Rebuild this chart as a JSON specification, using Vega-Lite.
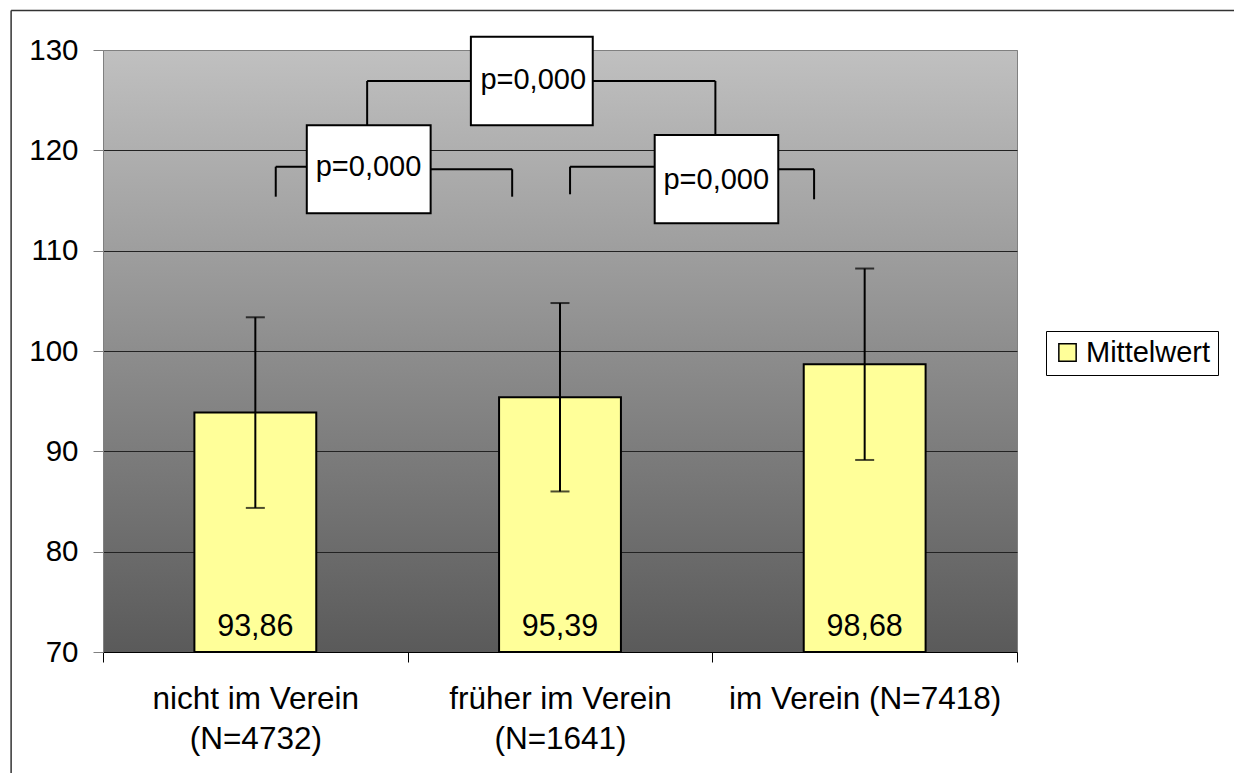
{
  "$schema": "https://vega.github.io/schema/vega-lite/v6.json",
  "width": 914,
  "height": 602,
  "autosize": "none",
  "padding": {"left": 103, "top": 50, "right": 217, "bottom": 121},
  "background": "white",
  "config": {
    "font": "Liberation Sans",
    "view": {
      "stroke": "#808080",
      "strokeWidth": 1,
      "fill": {"gradient": "linear", "x1": 0, "y1": 0, "x2": 0, "y2": 1,
        "stops": [{"offset": 0, "color": "#c0c0c0"}, {"offset": 1, "color": "#5a5a5a"}]}
    }
  },
  "datasets": {
    "bars": [
      {"Gruppe": "nicht im Verein|(N=4732)", "Mittelwert": 93.86, "Label": "93,86", "unten": 84.36, "oben": 103.36},
      {"Gruppe": "früher im Verein|(N=1641)", "Mittelwert": 95.39, "Label": "95,39", "unten": 86.0, "oben": 104.78},
      {"Gruppe": "im Verein (N=7418)", "Mittelwert": 98.68, "Label": "98,68", "unten": 89.14, "oben": 108.22}
    ],
    "linien": [
      {"x": 0.867, "x2": 2.010, "y": 126.91, "y2": 126.91},
      {"x": 0.867, "x2": 0.867, "y": 126.91, "y2": 122.5},
      {"x": 2.010, "x2": 2.010, "y": 126.91, "y2": 121.53},
      {"x": 0.567, "x2": 0.87, "y": 118.37, "y2": 118.37},
      {"x": 0.567, "x2": 0.567, "y": 118.37, "y2": 115.38},
      {"x": 0.87, "x2": 1.343, "y": 118.11, "y2": 118.11},
      {"x": 1.343, "x2": 1.343, "y": 118.11, "y2": 115.38},
      {"x": 1.533, "x2": 2.01, "y": 118.37, "y2": 118.37},
      {"x": 1.533, "x2": 1.533, "y": 118.37, "y2": 115.62},
      {"x": 2.01, "x2": 2.334, "y": 118.11, "y2": 118.11},
      {"x": 2.334, "x2": 2.334, "y": 118.11, "y2": 115.12}
    ],
    "boxen": [
      {"x": 1.2075, "x2": 1.6075, "y": 131.33, "y2": 122.5, "tx": 1.412, "ty": 127.0, "p": "p=0,000"},
      {"x": 0.6689, "x2": 1.0754, "y": 122.5, "y2": 113.72, "tx": 0.8715, "ty": 118.37, "p": "p=0,000"},
      {"x": 1.8108, "x2": 2.2164, "y": 121.53, "y2": 112.73, "tx": 2.013, "ty": 117.04, "p": "p=0,000"}
    ],
    "rahmen": [
      {"x": -0.3016, "x2": -0.3016, "y": 133.93, "y2": 40},
      {"x": -0.3016, "x2": 6, "y": 133.93, "y2": 133.93}
    ]
  },
  "layer": [
    {
      "data": {"name": "bars"},
      "encoding": {
        "x": {
          "field": "Gruppe", "type": "nominal", "sort": null,
          "scale": {"paddingInner": 0, "paddingOuter": 0},
          "axis": {
            "title": null, "labelAngle": 0, "tickBand": "extent", "tickSize": 10,
            "tickColor": "#000", "domainColor": "#000", "labelFontSize": 31.5,
            "labelColor": "black", "labelExpr": "split(datum.label, '|')",
            "labelLineHeight": 40, "labelPadding": 21, "labelLimit": 0
          }
        }
      },
      "layer": [
        {
          "mark": {"type": "bar", "width": {"band": 0.4}, "stroke": "black", "strokeWidth": 2},
          "encoding": {
            "y": {
              "field": "Mittelwert", "type": "quantitative",
              "scale": {"domain": [70, 130], "nice": false, "zero": false},
              "axis": {
                "title": null, "values": [70, 80, 90, 100, 110, 120, 130],
                "tickSize": 10, "tickColor": "#808080", "domainColor": "#808080",
                "labelFontSize": 29.5, "labelColor": "black", "labelPadding": 15,
                "grid": true,
                "gridColor": {"condition": {"test": "datum.value == 130 || datum.value == 70", "value": "#808080"}, "value": "#222222"},
                "gridWidth": 1
              }
            },
            "y2": {"datum": 70},
            "color": {
              "datum": "Mittelwert", "type": "nominal",
              "scale": {"range": ["#FFFF99"]},
              "legend": {
                "orient": "none", "legendX": 943, "legendY": 281, "title": null,
                "fillColor": "white", "strokeColor": "black", "padding": 7,
                "symbolType": "square", "symbolSize": 300, "symbolStrokeColor": "black",
                "symbolStrokeWidth": 1.5, "symbolOffset": 0, "labelFontSize": 29, "labelColor": "black",
                "labelOffset": 4
              }
            }
          }
        },
        {
          "mark": {"type": "errorbar", "ticks": {"size": 19, "thickness": 2, "color": "black"}, "rule": {"strokeWidth": 2, "color": "black"}},
          "encoding": {
            "y": {"field": "unten", "type": "quantitative"},
            "y2": {"field": "oben"}
          }
        },
        {
          "mark": {"type": "text", "fontSize": 30.5, "color": "black", "baseline": "alphabetic", "dy": -16},
          "encoding": {
            "y": {"datum": 70},
            "text": {"field": "Label"}
          }
        }
      ]
    },
    {
      "layer": [
        {
          "data": {"name": "linien"},
          "mark": {"type": "rule", "color": "black", "strokeWidth": 2},
          "encoding": {
            "x": {"field": "x", "type": "quantitative", "scale": {"domain": [0, 3], "nice": false, "zero": false}, "axis": null},
            "x2": {"field": "x2"},
            "y": {"field": "y", "type": "quantitative"},
            "y2": {"field": "y2"}
          }
        },
        {
          "data": {"name": "boxen"},
          "mark": {"type": "rect", "fill": "white", "stroke": "black", "strokeWidth": 2},
          "encoding": {
            "x": {"field": "x", "type": "quantitative", "scale": {"domain": [0, 3], "nice": false, "zero": false}, "axis": null},
            "x2": {"field": "x2"},
            "y": {"field": "y", "type": "quantitative"},
            "y2": {"field": "y2"}
          }
        },
        {
          "data": {"name": "boxen"},
          "mark": {"type": "text", "fontSize": 29, "color": "black", "baseline": "middle", "align": "center"},
          "encoding": {
            "x": {"field": "tx", "type": "quantitative", "scale": {"domain": [0, 3], "nice": false, "zero": false}, "axis": null},
            "y": {"field": "ty", "type": "quantitative"},
            "text": {"field": "p"}
          }
        },
        {
          "data": {"name": "rahmen"},
          "mark": {"type": "rule", "color": "#333333", "strokeWidth": 1.5},
          "encoding": {
            "x": {"field": "x", "type": "quantitative", "scale": {"domain": [0, 3], "nice": false, "zero": false}, "axis": null},
            "x2": {"field": "x2"},
            "y": {"field": "y", "type": "quantitative"},
            "y2": {"field": "y2"}
          }
        }
      ]
    }
  ],
  "resolve": {"scale": {"x": "independent"}}
}
